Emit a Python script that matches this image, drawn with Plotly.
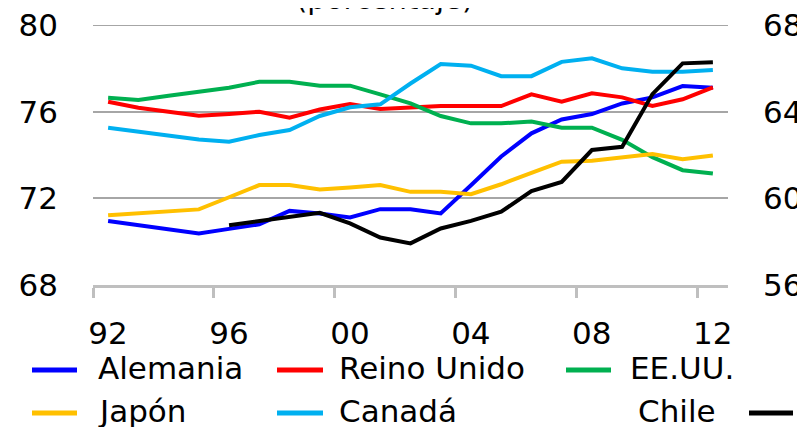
import plotly.graph_objects as go

years = list(range(1992, 2013))
alemania = [70.95, 70.76, 70.57, 70.38, 70.59, 70.8, 71.42, 71.3, 71.12, 71.5, 71.5,
            71.3, 72.6, 73.93, 75.0, 75.64, 75.89, 76.38, 76.66, 77.18, 77.1]
reino_unido = [76.46, 76.18, 76.0, 75.81, 75.89, 76.0, 75.72, 76.1, 76.35, 76.12, 76.19,
               76.26, 76.26, 76.26, 76.8, 76.46, 76.85, 76.66, 76.26, 76.57, 77.12]
eeuu = [76.64, 76.54, 76.73, 76.92, 77.1, 77.38, 77.38, 77.2, 77.2, 76.8, 76.38,
        75.8, 75.46, 75.46, 75.55, 75.26, 75.26, 74.7, 73.9, 73.3, 73.15]
japon = [71.22, 71.31, 71.4, 71.49, 72.05, 72.61, 72.61, 72.41, 72.5, 72.61, 72.3,
         72.3, 72.19, 72.65, 73.18, 73.69, 73.73, 73.9, 74.04, 73.8, 73.98]
canada = [75.26, 75.08, 74.9, 74.72, 74.61, 74.92, 75.15, 75.8, 76.2, 76.34, 77.3,
          78.2, 78.12, 77.64, 77.64, 78.3, 78.46, 78.0, 77.84, 77.84, 77.92]
chile = [None, None, None, None, 58.76, 58.95, 59.12, 59.33, 58.84, 58.19, 57.92,
         58.61, 58.96, 59.38, 60.33, 60.76, 62.23, 62.38, 64.81, 66.23, 66.28]

tick_years = [1991.5, 1995.5, 1999.5, 2003.5, 2007.5, 2011.5]
tick_text = ["92", "96", "00", "04", "08", "12"]

FONT = "DejaVu Sans"
# page body has an 8px margin, so the figure is 8px smaller and sits at (8, 8)
W, H = 797, 419
L, R, T, B = 85, 77, 17, 142

series = [("Alemania", alemania, "#0000FF"),
          ("Reino Unido", reino_unido, "#FF0000"),
          ("EE.UU.", eeuu, "#00B050"),
          ("Japón", japon, "#FFC000"),
          ("Canadá", canada, "#00B0F0")]

fig = go.Figure()
for name, vals, col in series:
    fig.add_trace(go.Scatter(x=years, y=vals, mode="lines", name=name,
                             line=dict(color=col, width=4), showlegend=False))
fig.add_trace(go.Scatter(x=years, y=chile, mode="lines", name="Chile", yaxis="y2",
                         line=dict(color="#000000", width=4), showlegend=False))

# top gridline (plotly drops the one sitting on the range edge)
fig.add_shape(type="line", xref="paper", yref="y", x0=0, x1=1, y0=80, y1=80,
              line=dict(color="#A6A6A6", width=2), layer="below")


# screen pixel -> paper coords (plot area spans x 93..728, y 25..285 on screen)
def px_x(p):
    return (p - 93) / 635


def px_y(p):
    return (285 - p) / 260


# legend built by hand (Chile has its line after the text)
legend = [("Alemania", "#0000FF", 32, 77, 96, 370, "left"),
          ("Reino Unido", "#FF0000", 277, 323, 337, 370, "left"),
          ("EE.UU.", "#00B050", 566, 611, 628, 370, "left"),
          ("Japón", "#FFC000", 32, 77, 96, 413, "left"),
          ("Canadá", "#00B0F0", 277, 323, 337, 413, "left"),
          ("Chile", "#000000", 749, 793, 718, 413, "right")]
for txt, col, x0, x1, tx, yy, anc in legend:
    fig.add_shape(type="line", xref="paper", yref="paper",
                  x0=px_x(x0), x1=px_x(x1), y0=px_y(yy), y1=px_y(yy),
                  line=dict(color=col, width=5))
    fig.add_annotation(text=txt, xref="paper", yref="paper", x=px_x(tx), y=px_y(yy - 2),
                       xanchor=anc, yanchor="middle", showarrow=False,
                       font=dict(family=FONT, size=31, color="black"))

fig.add_annotation(text="(porcentaje)", xref="paper", yref="paper", x=px_x(384), y=px_y(-1),
                   xanchor="center", yanchor="middle", showarrow=False,
                   font=dict(family=FONT, size=29, color="black"))

fig.update_layout(
    width=W, height=H,
    margin=dict(l=L, r=R, t=T, b=B, autoexpand=False),
    plot_bgcolor="white", paper_bgcolor="white",
    font=dict(family=FONT, size=31, color="black"),
    xaxis=dict(range=[1991.5, 2012.5], tickvals=tick_years, ticktext=tick_text,
               ticks="outside", ticklen=10, tickwidth=3, tickcolor="#BFBFBF",
               showline=True, linecolor="#BFBFBF", linewidth=3, showgrid=False,
               zeroline=False, ticklabelshift=15, ticklabelstandoff=9, automargin=False),
    yaxis=dict(range=[68, 80], tickvals=[68, 72, 76, 80], showgrid=True,
               gridcolor="#A6A6A6", gridwidth=2, zeroline=False, showline=False,
               ticks="", ticklabelstandoff=34, automargin=False, ticklabeloverflow="allow"),
    yaxis2=dict(range=[56, 68], tickvals=[56, 60, 64, 68], overlaying="y", side="right",
                showgrid=False, zeroline=False, showline=False, ticks="",
                ticklabelstandoff=34, automargin=False, ticklabeloverflow="allow"),
)

fig.write_html("out.html")
